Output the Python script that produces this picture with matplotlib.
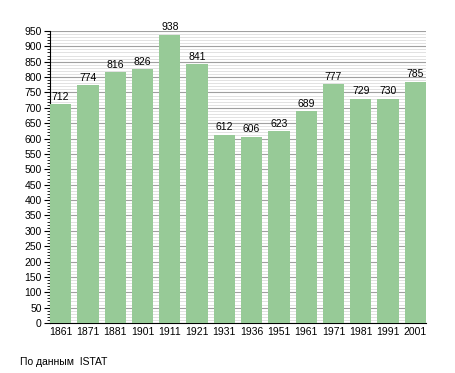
import matplotlib
matplotlib.use('Agg')
from matplotlib import pyplot as plt
import numpy as np

years = ['1861', '1871', '1881', '1901', '1911', '1921', '1931',
         '1936', '1951', '1961', '1971', '1981', '1991', '2001']
population = [712, 774, 816, 826, 938, 841, 612, 606, 623, 689, 777, 729, 730, 785]

plt.rcParams['font.family'] = ['Liberation Sans', 'DejaVu Sans']

fig = plt.figure(figsize=(4.55, 3.73), dpi=100)
ax = fig.add_axes([0.110, 0.134, 0.826, 0.783])

x = np.arange(len(years))
bars = ax.bar(x, population, width=0.78, color='#97ca97', zorder=3)

# Value labels above bars
for xi, v in zip(x, population):
    ax.text(xi, v + 8, str(v), ha='center', va='bottom', fontsize=7.5, zorder=4)

ax.set_xlim(-0.39, len(years) - 0.61)
ax.set_ylim(0, 950)
ax.set_xticks(x)
ax.set_xticklabels(years)
ax.set_yticks(np.arange(0, 951, 50))
ax.set_yticks(np.arange(0, 951, 10), minor=True)

ax.grid(axis='y', which='major', color='#a0a0a0', linewidth=0.8, zorder=1)
ax.grid(axis='y', which='minor', color='#dddddd', linewidth=0.6, zorder=0)

ax.spines['top'].set_visible(False)
ax.spines['right'].set_visible(False)
ax.tick_params(axis='x', length=0, labelsize=7.5, pad=3)
ax.tick_params(axis='y', which='major', length=4, labelsize=7.5, pad=2)
ax.tick_params(axis='y', which='minor', length=2)

fig.text(0.044, 0.03, 'По данным  ISTAT', fontsize=7.5, va='center')

fig.savefig('out.png', dpi=100)
